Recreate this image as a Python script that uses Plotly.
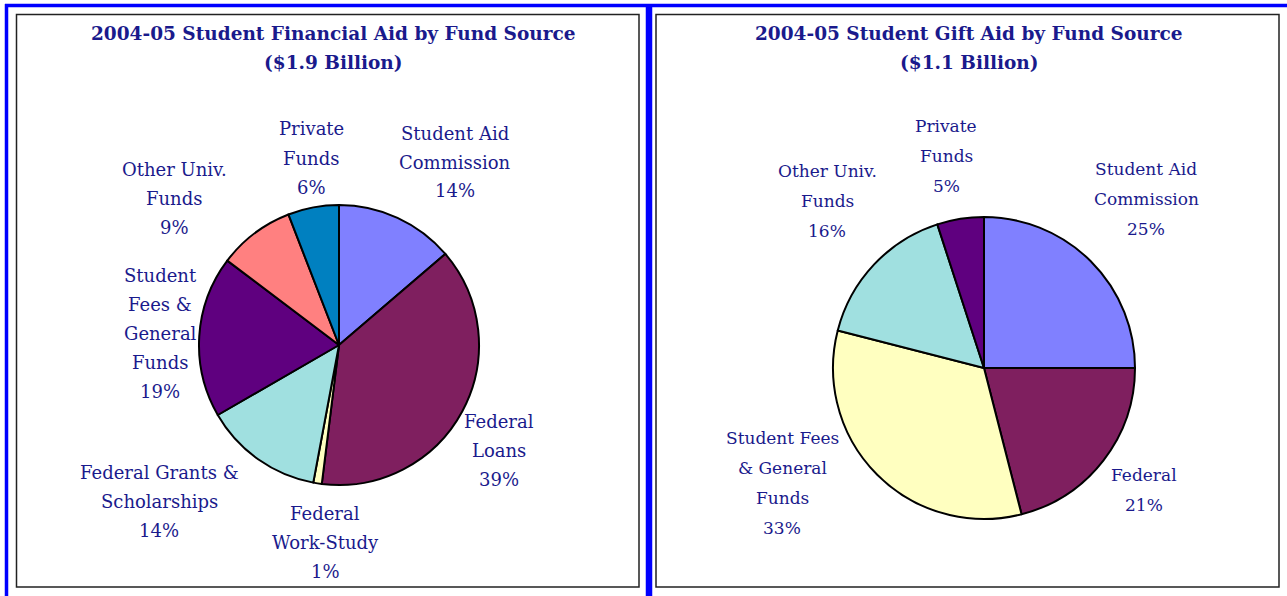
import plotly.graph_objects as go

W, H = 1287, 596

# Chart 1: all financial aid by fund source
aid_sources = ["Student Aid Commission", "Federal Loans", "Federal Work-Study",
               "Federal Grants & Scholarships", "Student Fees & General Funds",
               "Other Univ. Funds", "Private Funds"]
aid_pct = [14, 39, 1, 14, 19, 9, 6]
aid_colors = ["#8080FF", "#7F1F5F", "#FFFFC0", "#A0E0E0", "#5F007F", "#FF8080", "#0080C0"]
aid_label_lines = [["Student Aid", "Commission"], ["Federal", "Loans"], ["Federal", "Work-Study"],
                   ["Federal Grants &", "Scholarships"], ["Student", "Fees &", "General", "Funds"],
                   ["Other Univ.", "Funds"], ["Private", "Funds"]]

# Chart 2: gift aid by fund source
gift_sources = ["Student Aid Commission", "Federal", "Student Fees & General Funds",
                "Other Univ. Funds", "Private Funds"]
gift_pct = [25, 21, 33, 16, 5]
gift_colors = ["#8080FF", "#7F1F5F", "#FFFFC0", "#A0E0E0", "#5F007F"]
gift_label_lines = [["Student Aid", "Commission"], ["Federal"], ["Student Fees", "& General", "Funds"],
                    ["Other Univ.", "Funds"], ["Private", "Funds"]]

titles = [["2004-05 Student Financial Aid by Fund Source", "($1.9 Billion)"],
          ["2004-05 Student Gift Aid by Fund Source", "($1.1 Billion)"]]

NAVY = "#1a1a8c"
FONT = "DejaVu Serif"


def px(x):
    return x / W


def py(y):
    return 1 - y / H


fig = go.Figure()

# pie placement: (center x, center y, radius) in pixels
pie_geom = [(339, 345, 140), (984, 368, 151)]
for (cx, cy, r), labels, vals, cols in [
        (pie_geom[0], aid_sources, aid_pct, aid_colors),
        (pie_geom[1], gift_sources, gift_pct, gift_colors)]:
    fig.add_trace(go.Pie(
        labels=labels, values=vals, sort=False, direction="clockwise", rotation=0,
        marker=dict(colors=cols, line=dict(color="black", width=2)),
        textinfo="none", hoverinfo="label+value", showlegend=False,
        domain=dict(x=[px(cx - r), px(cx + r)], y=[py(cy + r), py(cy - r)]),
    ))

annotations = []


def add_text(x, y_top, lines, spacing, size, bold=False):
    for i, line in enumerate(lines):
        txt = f"<b>{line}</b>" if bold else line
        annotations.append(dict(
            x=px(x), y=py(y_top + i * spacing), xref="paper", yref="paper",
            text=txt, showarrow=False, xanchor="center", yanchor="middle",
            font=dict(family=FONT, size=size, color=NAVY)))


# titles
add_text(333, 34, titles[0], 28, 18.5, bold=True)
add_text(969, 34, titles[1], 28, 18.5, bold=True)

# slice labels: anchor of first line (center x, y) for each slice
aid_anchor = [(455, 133), (499, 421), (325, 513), (159, 472), (160, 275), (174, 169), (311, 129)]
gift_anchor = [(1146, 169), (1144, 475), (782, 438), (827, 171), (946, 126)]

for (x, y), lines, v in zip(aid_anchor, aid_label_lines, aid_pct):
    add_text(x, y, lines + [f"{v}%"], 29, 18)
for (x, y), lines, v in zip(gift_anchor, gift_label_lines, gift_pct):
    add_text(x, y, lines + [f"{v}%"], 30, 17)

shapes = []
# outer blue border and divider
BLUE = "#0000FF"
shapes.append(dict(type="line", xref="paper", yref="paper", x0=px(5), x1=1.05, y0=py(5.5), y1=py(5.5),
                   line=dict(color=BLUE, width=3.5)))
shapes.append(dict(type="line", xref="paper", yref="paper", x0=px(6.5), x1=px(6.5), y0=py(4), y1=-0.05,
                   line=dict(color=BLUE, width=3.5)))
shapes.append(dict(type="line", xref="paper", yref="paper", x0=px(649), x1=px(649), y0=py(4), y1=-0.05,
                   line=dict(color=BLUE, width=6.5)))
# inner black frames
for x0, x1 in [(16.5, 639), (656, 1279)]:
    shapes.append(dict(type="rect", xref="paper", yref="paper", x0=px(x0), x1=px(x1),
                       y0=py(587), y1=py(14.5), line=dict(color="#222222", width=1.5)))

fig.update_layout(
    width=W, height=H, margin=dict(l=0, r=0, t=0, b=0),
    paper_bgcolor="white", plot_bgcolor="white",
    annotations=annotations, shapes=shapes,
)

fig.write_html("out.html")
